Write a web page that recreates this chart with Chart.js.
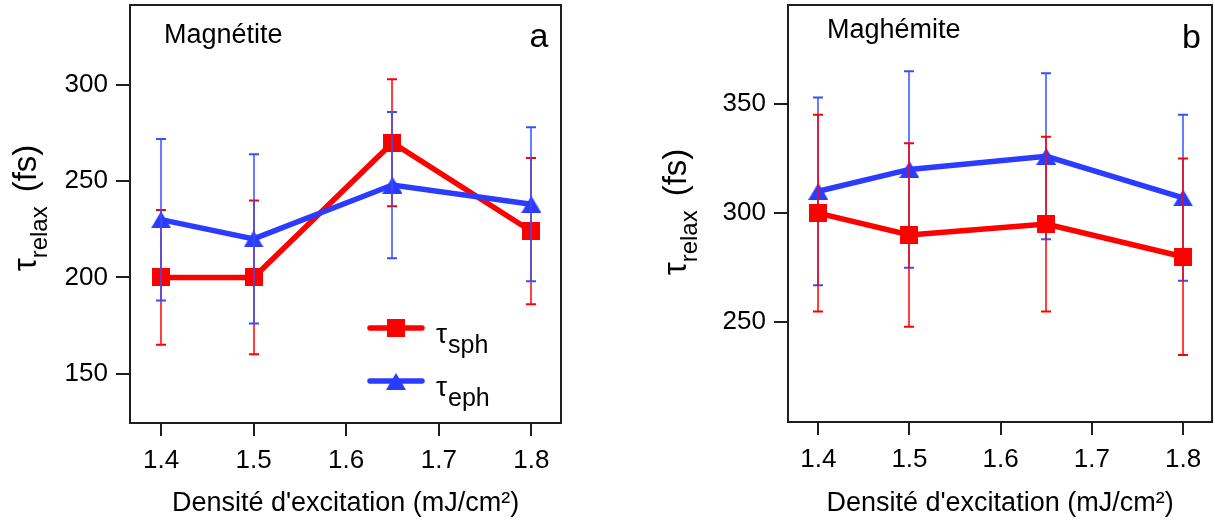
<!DOCTYPE html>
<html><head><meta charset="utf-8">
<script src="https://cdn.jsdelivr.net/npm/chart.js@4.4.1/dist/chart.umd.min.js"></script>
<style>
html,body{margin:0;padding:0;background:#fff;}
#wrap{position:relative;width:1215px;height:522px;overflow:hidden;background:#fff;}
#c1{position:absolute;left:0;top:0;}
#c2{position:absolute;left:640px;top:0;}
</style></head><body>
<div id="wrap"><canvas id="c1" width="600" height="522"></canvas><canvas id="c2" width="575" height="522"></canvas></div>
<script>
// ---- data ----
const density = [1.4, 1.5, 1.65, 1.8];
const xTickValues = [1.4, 1.5, 1.6, 1.7, 1.8];
const magnetiteSph = [200, 200, 270, 224];
const magnetiteSphErr = [35, 40, 33, 38];
const magnetiteEph = [230, 220, 248, 238];
const magnetiteEphErr = [42, 44, 38, 40];
const maghemiteSph = [300, 290, 295, 280];
const maghemiteSphErr = [45, 42, 40, 45];
const maghemiteEph = [310, 320, 326, 307];
const maghemiteEphErr = [43, 45, 38, 38];
const yTicksA = [150, 200, 250, 300];
const yTicksB = [250, 300, 350];
const xLabel = "Densité d'excitation (mJ/cm²)";

const RED = '#ff0000', BLUE = '#2b3cff', BLUE_ERR = '#3550ff', FRAME = '#1e1e1e';
const FONT = "'Liberation Sans', Arial, Helvetica, sans-serif";
Chart.defaults.font.family = FONT;
Chart.defaults.color = '#000';

function squareImg(color, s) {
  const c = document.createElement('canvas'); c.width = s; c.height = s;
  const g = c.getContext('2d'); g.fillStyle = color; g.fillRect(0, 0, s, s); return c;
}
function triImg(color, w, h) {
  const c = document.createElement('canvas'); c.width = w; c.height = h;
  const g = c.getContext('2d'); g.fillStyle = color; g.beginPath();
  g.moveTo(w / 2, 0); g.lineTo(w, h); g.lineTo(0, h); g.closePath(); g.fill(); return c;
}
const SQ = squareImg(RED, 18);
const TRI = triImg(BLUE, 20, 17);

function pts(vals) { return density.map((x, i) => ({ x: x, y: vals[i] })); }

const errorBars = {
  id: 'errorBars',
  afterDatasetDraw(chart, args) {
    const ds = chart.data.datasets[args.index];
    if (!ds.errors) return;
    const xs = chart.scales.x, ys = chart.scales.y, ctx = chart.ctx;
    ctx.save();
    ctx.strokeStyle = ds.errorColor;
    ds.data.forEach((p, i) => {
      const e = ds.errors[i];
      const px = Math.round(xs.getPixelForValue(p.x));
      const top = ys.getPixelForValue(p.y + e), bot = ys.getPixelForValue(p.y - e);
      ctx.lineWidth = 1.5;
      ctx.beginPath(); ctx.moveTo(px, top); ctx.lineTo(px, bot); ctx.stroke();
      ctx.lineWidth = 2;
      ctx.beginPath();
      ctx.moveTo(px - 5, top); ctx.lineTo(px + 5, top);
      ctx.moveTo(px - 5, bot); ctx.lineTo(px + 5, bot);
      ctx.stroke();
    });
    ctx.restore();
  }
};

const decor = {
  id: 'decor',
  afterDraw(chart, args, o) {
    const ctx = chart.ctx, a = chart.chartArea;
    ctx.save();
    // frame
    ctx.strokeStyle = FRAME; ctx.lineWidth = 2;
    ctx.strokeRect(a.left, a.top, a.right - a.left, a.bottom - a.top);
    ctx.fillStyle = '#000';
    // panel name
    ctx.font = '27px ' + FONT; ctx.textAlign = 'left'; ctx.textBaseline = 'alphabetic';
    ctx.fillText(o.name, a.left + o.nameDx, a.top + o.nameDy);
    // panel letter
    ctx.font = '34px ' + FONT; ctx.textAlign = 'right';
    ctx.fillText(o.letter, a.right - o.letterDx, a.top + o.letterDy);
    // y title with subscript
    ctx.save();
    ctx.translate(a.left - o.yTitleDx, o.yTitleCy);
    ctx.rotate(-Math.PI / 2);
    const big = '33px ' + FONT, small = '24px ' + FONT;
    ctx.font = big; const w1 = ctx.measureText('τ').width;
    ctx.font = small; const w2 = ctx.measureText('relax').width;
    ctx.font = big; const wsp = 14; const w3 = ctx.measureText('(fs)').width;
    const tot = w1 + w2 + wsp + w3;
    let x = -tot / 2;
    ctx.textAlign = 'left';
    ctx.font = big; ctx.fillText('τ', x, 0); x += w1;
    ctx.font = small; ctx.fillText('relax', x, 11); x += w2 + wsp;
    ctx.font = big; ctx.fillText('(fs)', x, 0);
    ctx.restore();
    // legend
    if (o.legend) {
      const items = [
        { c: RED, img: SQ, sub: 'sph', y: o.legendY1 },
        { c: BLUE, img: TRI, sub: 'eph', y: o.legendY2 }
      ];
      items.forEach(it => {
        const x0 = a.left + o.legendX;
        ctx.strokeStyle = it.c; ctx.lineWidth = 5.5; ctx.lineCap = 'round';
        ctx.beginPath(); ctx.moveTo(x0 + 3, it.y); ctx.lineTo(x0 + 55, it.y); ctx.stroke();
        ctx.drawImage(it.img, Math.round(x0 + 29 - it.img.width / 2), Math.round(it.y - it.img.height / 2));
        ctx.fillStyle = '#000'; ctx.textAlign = 'left';
        ctx.font = '28px ' + FONT;
        const tx = x0 + 69;
        ctx.fillText('τ', tx, it.y + 15);
        const tw = ctx.measureText('τ').width;
        ctx.font = '25px ' + FONT;
        ctx.fillText(it.sub, tx + tw + 1, it.y + 25);
      });
    }
    ctx.restore();
  }
};

function makeChart(id, cfg) {
  const datasets = [
    { label: 'sph', data: pts(cfg.sph), errors: cfg.sphErr, errorColor: RED,
      borderColor: RED, borderWidth: 5.5, pointStyle: SQ, pointRadius: 9, order: cfg.sphOrder, tension: 0 },
    { label: 'eph', data: pts(cfg.eph), errors: cfg.ephErr, errorColor: BLUE_ERR,
      borderColor: BLUE, borderWidth: 5.5, pointStyle: TRI, pointRadius: 9, order: cfg.ephOrder, tension: 0 }
  ];
  return new Chart(document.getElementById(id), {
    type: 'line',
    data: { datasets },
    plugins: [errorBars, decor],
    options: {
      responsive: false, animation: false, events: [],
      layout: { autoPadding: false, padding: { left: 0, right: cfg.padRight, top: 5, bottom: 0 } },
      plugins: { legend: { display: false }, tooltip: { enabled: false }, decor: cfg.decor },
      scales: {
        x: {
          type: 'linear', min: cfg.xmin, max: cfg.xmax,
          afterBuildTicks: s => { s.ticks = xTickValues.map(v => ({ value: v })); },
          afterFit: s => { s.height = cfg.xh; s.paddingLeft = 0; s.paddingRight = 0; },
          grid: { drawOnChartArea: false, drawTicks: true, tickLength: 13, color: FRAME, lineWidth: 2 },
          border: { display: false },
          ticks: { font: { size: 26 }, color: '#000', padding: 9, maxRotation: 0, autoSkip: false,
                   callback: v => Number(v).toFixed(1) },
          title: { display: true, text: xLabel, font: { size: 27 }, color: '#000', padding: { top: 0, bottom: 2 } }
        },
        y: {
          type: 'linear', min: cfg.ymin, max: cfg.ymax,
          afterBuildTicks: s => { s.ticks = cfg.yTicks.map(v => ({ value: v })); },
          afterFit: s => { s.width = cfg.yw; s.paddingTop = 0; s.paddingBottom = 0; },
          grid: { drawOnChartArea: false, drawTicks: true, tickLength: 14, color: FRAME, lineWidth: 2 },
          border: { display: false },
          ticks: { font: { size: 26 }, color: '#000', padding: 8, autoSkip: false, callback: v => String(v) }
        }
      }
    }
  });
}

makeChart('c1', {
  sph: magnetiteSph, sphErr: magnetiteSphErr, eph: magnetiteEph, ephErr: magnetiteEphErr,
  sphOrder: 1, ephOrder: 0,
  xmin: 1.3665, xmax: 1.832, ymin: 124.3, ymax: 341.6, yTicks: yTicksA,
  yw: 130, xh: 99, padRight: 39,
  decor: { name: 'Magnétite', nameDx: 34, nameDy: 37.7, letter: 'a', letterDx: 12.5, letterDy: 41.7,
           yTitleDx: 94, yTitleCy: 208, legend: true, legendX: 237, legendY1: 328, legendY2: 381 }
});
makeChart('c2', {
  sph: maghemiteSph, sphErr: maghemiteSphErr, eph: maghemiteEph, ephErr: maghemiteEphErr,
  sphOrder: 0, ephOrder: 1,
  xmin: 1.3668, xmax: 1.8317, ymin: 204.35, ymax: 395.3, yTicks: yTicksB,
  yw: 148, xh: 100, padRight: 3,
  decor: { name: 'Maghémite', nameDx: 39, nameDy: 33.3, letter: 'b', letterDx: 11, letterDy: 43.3,
           yTitleDx: 102, yTitleCy: 212, legend: false }
});
</script>
</body></html>
